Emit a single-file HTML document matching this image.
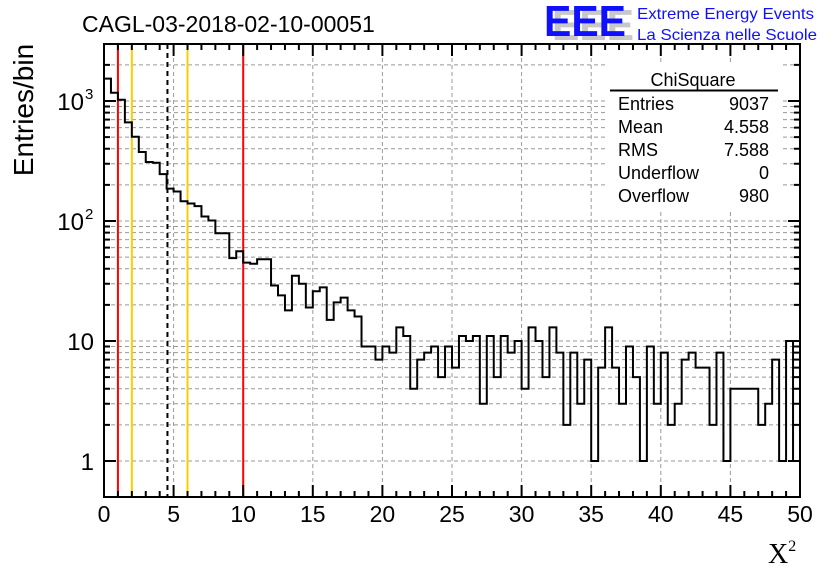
<!DOCTYPE html>
<html><head><meta charset="utf-8"><style>
html,body{margin:0;padding:0;background:#fff;}
svg{display:block;font-family:"Liberation Sans",sans-serif;}
</style></head><body>
<svg id="c" width="836" height="572" viewBox="0 0 836 572">
<rect width="836" height="572" fill="#fff"/>
<g id="grid"></g>
<g id="statsbox">
<rect x="608" y="64" width="172" height="146" fill="#fff"/>
<text x="693" y="86" font-size="18" text-anchor="middle">ChiSquare</text>
<line x1="610" y1="90.5" x2="778" y2="90.5" stroke="#000" stroke-width="2"/>
<text x="618" y="110" font-size="18">Entries</text><text x="769" y="110" font-size="18" text-anchor="end">9037</text>
<text x="618" y="133" font-size="18">Mean</text><text x="769" y="133" font-size="18" text-anchor="end">4.558</text>
<text x="618" y="156" font-size="18">RMS</text><text x="769" y="156" font-size="18" text-anchor="end">7.588</text>
<text x="618" y="179" font-size="18">Underflow</text><text x="769" y="179" font-size="18" text-anchor="end">0</text>
<text x="618" y="202" font-size="18">Overflow</text><text x="769" y="202" font-size="18" text-anchor="end">980</text>
</g>
<g id="lines"></g>
<g id="hist"></g>
<g id="axes"></g>
<text x="82" y="32" font-size="23">CAGL-03-2018-02-10-00051</text>
<text x="33" y="110" font-size="28" text-anchor="middle" transform="rotate(-90 33 110)">Entries/bin</text>
<text x="768" y="563" font-size="28" font-family="Liberation Serif,serif">X<tspan font-size="16" dy="-12">2</tspan></text>
<g>
<text x="552" y="40" font-size="44" font-weight="bold" fill="#c8c8c8" textLength="82" lengthAdjust="spacingAndGlyphs">EEE</text>
<text x="544" y="36" font-size="44" font-weight="bold" fill="#1010ff" textLength="82" lengthAdjust="spacingAndGlyphs">EEE</text>
<text x="637" y="19" font-size="16" fill="#1010ff" textLength="177" lengthAdjust="spacingAndGlyphs">Extreme Energy Events</text>
<text x="637" y="40" font-size="16" fill="#1010ff" textLength="180" lengthAdjust="spacingAndGlyphs">La Scienza nelle Scuole</text>
</g>
</svg>
<script>
const counts = [1535,1172,1025,664,504,376,310,306,246,186,176,146,140,133,109,101,79,79,49,56,45,44,48,48,29,24,18,35,30,19,26,28,15,21,23,18,16,9,9,7,9,8,13,11,4,7,8,9,5,9,6,11,10,11,3,11,5,11,8,10,4,13,10,5,13,8,2,8,3,7,1,6,13,6,3,9,5,1,9,3,8,2,3,7,8,6,6,2,8,1,4,4,4,4,2,3,7,1,10,1];
const xTicks = [0,5,10,15,20,25,30,35,40,45,50];
const yDecades = [1,10,100,1000];
const yLabels = ["1","10","10","10"];
const yExps = ["","","2","3"];
const cutLines = [1,2,4.558,6,10];
const cutColors = ["#ff0000","#ffcc00","#000000","#ffcc00","#ff0000"];
const NS="http://www.w3.org/2000/svg";
const X0=104,X1=800,Y0=44,Y1=497,XMIN=0,XMAX=50,LMIN=-0.3,LMAX=3.475;
function sx(v){return X0+(v-XMIN)/(XMAX-XMIN)*(X1-X0);}
function sy(v){return Y1-(Math.log10(v)-LMIN)/(LMAX-LMIN)*(Y1-Y0);}
function mk(tag,attrs,parent){const e=document.createElementNS(NS,tag);for(const k in attrs)e.setAttribute(k,attrs[k]);parent.appendChild(e);return e;}
const grid=document.getElementById('grid'),axes=document.getElementById('axes'),hist=document.getElementById('hist'),lines=document.getElementById('lines');
xTicks.forEach(t=>{if(t>XMIN&&t<XMAX){const l=mk('line',{x1:sx(t),x2:sx(t),y1:Y0,y2:Y1,stroke:'#999','stroke-dasharray':'4,3'},grid);

}});
yDecades.forEach(d=>{for(let m=1;m<=9;m++){const v=d*m;if(v<Math.pow(10,LMIN)||v>Math.pow(10,LMAX))continue;const y=sy(v);
const l=mk('line',{x1:X0,x2:X1,y1:y,y2:y,stroke:'#999','stroke-dasharray':'4,3'},grid);


const tl=m===1?12:6;
const a=mk('line',{x1:X0,x2:X0+tl,y1:y,y2:y,stroke:'#000','stroke-width':2},axes);


const b=mk('line',{x1:X1-tl,x2:X1,y1:y,y2:y,stroke:'#000','stroke-width':2},axes);

}});
cutLines.forEach((c,i)=>{const l=mk('line',{x1:sx(c),x2:sx(c),y1:Y0,y2:Y1,stroke:cutColors[i],'stroke-width':2},lines);
if(i===2)l.setAttribute('stroke-dasharray','5,4');

});
const bw=(XMAX-XMIN)/counts.length;let d='M'+sx(0)+','+Y1;
counts.forEach((c,i)=>{const y=sy(Math.max(c,Math.pow(10,LMIN)));d+=' L'+sx(i*bw)+','+y+' L'+sx((i+1)*bw)+','+y;});
d+=' L'+sx(XMAX)+','+Y1;
const p=mk('path',{d:d,fill:'none',stroke:'#000','stroke-width':2},hist);


const fr=mk('rect',{x:X0,y:Y0,width:X1-X0,height:Y1-Y0,fill:'none',stroke:'#000','stroke-width':2},axes);


for(let t=XMIN;t<=XMAX;t++){const major=t%5===0,tl=major?12:6,x=sx(t);
const a=mk('line',{x1:x,x2:x,y1:Y1,y2:Y1-tl,stroke:'#000','stroke-width':2},axes);


const b=mk('line',{x1:x,x2:x,y1:Y0,y2:Y0+tl,stroke:'#000','stroke-width':2},axes);

}
xTicks.forEach(t=>{const tx=mk('text',{x:sx(t),y:522,'font-size':23,'text-anchor':'middle'},axes);tx.textContent=t;

});
yDecades.forEach((d,i)=>{const y=sy(d)+9;const tx=mk('text',{x:yExps[i]?84:94,y:y,'font-size':24,'text-anchor':'end'},axes);tx.textContent=yLabels[i];


if(yExps[i]){const e=mk('text',{x:85,y:y-11,'font-size':15},axes);e.textContent=yExps[i];

}});
</script>
</body></html>
